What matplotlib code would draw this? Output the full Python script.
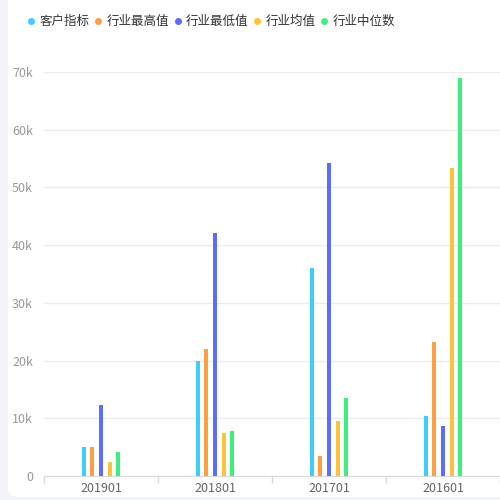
import matplotlib.pyplot as plt
import numpy as np
from matplotlib.patches import FancyBboxPatch
from matplotlib.lines import Line2D
from matplotlib.ticker import FuncFormatter

plt.rcParams['font.family'] = ['Noto Sans CJK SC', 'DejaVu Sans']

# 数据
categories = ['201901', '201801', '201701', '201601']
series_names = ['客户指标', '行业最高值', '行业最低值', '行业均值', '行业中位数']
colors = ['#3ecdfd', '#ff9f43', '#5b6dfb', '#ffc23a', '#3fef7d']

customer = [4970, 19930, 36050, 10350]
ind_max = [5080, 22000, 3520, 23200]
ind_min = [12250, 42100, 54300, 8720]
ind_mean = [2370, 7500, 9580, 53400]
ind_median = [4200, 7850, 13470, 68900]
series = [customer, ind_max, ind_min, ind_mean, ind_median]

fig = plt.figure(figsize=(5, 5), dpi=100)
fig.patch.set_facecolor('#f2f3f8')

# 白色卡片背景
card = FancyBboxPatch((0.032, 0.022), 1.1, 1.1,
                      boxstyle='round,pad=0.016,rounding_size=0.018',
                      transform=fig.transFigure, facecolor='white',
                      edgecolor='none', zorder=-1)
fig.patches.append(card)

ax = fig.add_axes([0.088, 0.048, 0.912, 0.808])
ax.set_facecolor('none')
ax.set_zorder(2)

x = np.arange(len(categories))
bar_w = 0.036
step = 0.076
for k, (vals, col) in enumerate(zip(series, colors)):
    ax.bar(x + (k - 2) * step, vals, width=bar_w, color=col, zorder=3)

ax.set_xlim(-0.5, len(categories) - 0.5)
ax.set_ylim(0, 70000)
ax.set_yticks(np.arange(0, 70001, 10000))
ax.yaxis.set_major_formatter(FuncFormatter(lambda v, p: '0' if v == 0 else f'{int(v/1000)}k'))
ax.grid(axis='y', color='#ececec', linewidth=1, zorder=0)

ax.set_xticks(np.arange(-0.5, len(categories), 1.0))
ax.set_xticklabels([])
ax.set_xticks(x, minor=True)
ax.set_xticklabels(categories, minor=True)
ax.tick_params(axis='x', which='major', length=5, color='#d9d9d9', width=1)
ax.tick_params(axis='x', which='minor', length=0, labelsize=9, labelcolor='#666666', pad=4)
ax.tick_params(axis='y', length=0, labelsize=9, labelcolor='#999999', pad=8)

for s in ['top', 'right', 'left']:
    ax.spines[s].set_visible(False)
ax.spines['bottom'].set_color('#d9d9d9')

handles = [Line2D([], [], marker='o', linestyle='none', markersize=4,
                  markerfacecolor=c, markeredgecolor=c) for c in colors]
fig.legend(handles, series_names, loc='upper left', bbox_to_anchor=(0.034, 0.992),
           ncol=5, frameon=False, fontsize=9, handletextpad=0.4,
           columnspacing=0.48, handlelength=0.48, labelcolor='#333333')

fig.savefig('out.png', dpi=100)
